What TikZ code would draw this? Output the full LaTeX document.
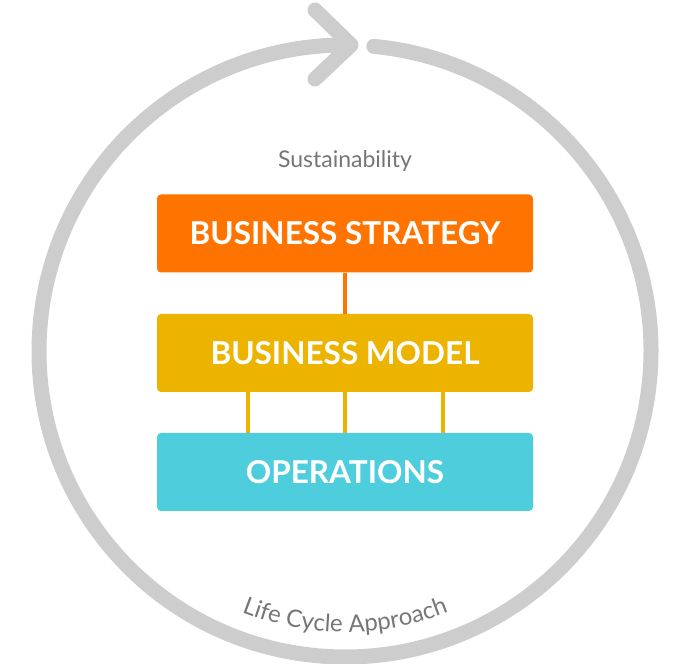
\documentclass[tikz,border=0pt]{standalone}
\usepackage{fontspec}
\setmainfont{Lato}
\usetikzlibrary{positioning, decorations.text}
\definecolor{ringgrey}{RGB}{205,205,205}
\definecolor{labelgrey}{RGB}{118,118,118}
\definecolor{strategyorange}{RGB}{255,116,0}
\definecolor{modelgold}{RGB}{236,180,0}
\definecolor{opscyan}{RGB}{78,205,220}

\begin{document}
\begin{tikzpicture}[
    x=1pt, y=1pt,
    layer/.style={rectangle, rounded corners=4pt, minimum width=376pt, minimum height=78pt, text=white, font=\fontsize{31.5}{34}\selectfont\bfseries},
    ring/.style={draw=ringgrey, line width=15pt, line cap=round, line join=round},
    link/.style={line width=4pt}
]
\useasboundingbox (0,0) rectangle (679,663);

% Cycle
\coordinate (ctr) at (345,312);
\draw[ring] ([shift={(84.6:306)}]ctr) arc[start angle=84.6, end angle=-270.6, radius=306];
\draw[ring] (315,653) -- (351,618) -- (315,584);

% Labels
\node[text=labelgrey, font=\fontsize{23}{26}\selectfont] (sust) at (345,502) {Sustainability};
\path[decorate, decoration={text along path, text align=center,
    text={|\fontsize{24}{27}\selectfont\color{labelgrey}|Life Cycle Approach}}]
    ([shift={(235:281)}]ctr) arc[start angle=235, end angle=305, radius=281];

% Layers
\node[layer, fill=strategyorange] (strategy) at (345,429.5) {BUSINESS STRATEGY};
\node[layer, fill=modelgold] (model) at (345,310) {BUSINESS MODEL};
\node[layer, fill=opscyan] (ops) at (345,191) {OPERATIONS};

% Links
\draw[link, draw=strategyorange, line width=3.5pt] (strategy) -- (model);
\draw[link, draw=modelgold] ([xshift=-97pt]model.south) -- ([xshift=-97pt]ops.north);
\draw[link, draw=modelgold] (model) -- (ops);
\draw[link, draw=modelgold] ([xshift=98pt]model.south) -- ([xshift=98pt]ops.north);

\end{tikzpicture}
\end{document}
